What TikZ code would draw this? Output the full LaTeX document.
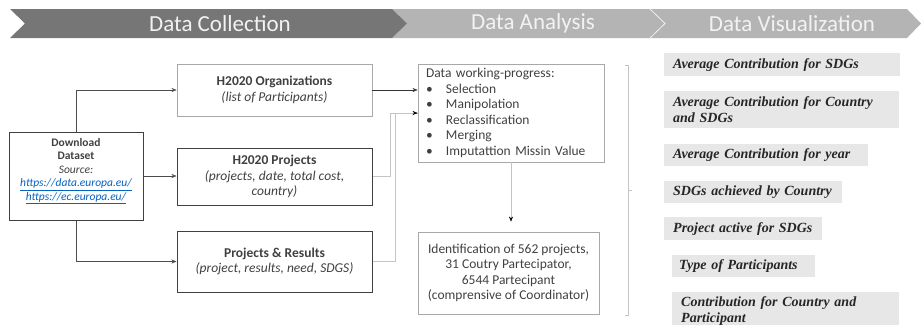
\documentclass[tikz,border=0pt]{standalone}
\usepackage{fontspec}
\setmainfont{Carlito}
\newfontfamily\itemfont{Liberation Serif}
\usetikzlibrary{arrows.meta}

\definecolor{bannerdark}{HTML}{767676}
\definecolor{bannerlight}{HTML}{B4B4B4}
\definecolor{boxtext}{HTML}{404040}
\definecolor{boxline}{HTML}{A8A8A8}
\definecolor{wireline}{HTML}{C4C4C4}
\definecolor{itemfill}{HTML}{E7E7E7}
\definecolor{linkblue}{HTML}{0563C1}

\newcommand{\bul}[1]{\makebox[20pt][l]{\textbullet}#1}
\newcommand{\weblink}[1]{\textcolor{linkblue}{\underline{#1}}}

\begin{document}
\begin{tikzpicture}[x=1pt, y=-1pt, >={Stealth[length=5pt,width=4pt]},
    darkbox/.style={draw=boxtext, line width=1pt, text=boxtext, align=center,
      font=\fontsize{13.5}{15.5}\selectfont},
    lightbox/.style={draw=boxline, line width=0.9pt, text=boxtext,
      font=\fontsize{13.5}{15.5}\selectfont},
    headtext/.style={text=white!95!black, font=\fontsize{23}{26}\selectfont},
    vizitem/.style={fill=itemfill, anchor=north west, align=left, inner xsep=9pt,
      inner ysep=0pt, text=black!85,
      font=\itemfont\bfseries\itshape\fontsize{14}{16}\selectfont}]
        \useasboundingbox (0,0) rectangle (921,324);

        % Banner
        \fill[bannerlight] (392,9) -- (907,9) -- (921,23.5) -- (907,38) -- (392,38) -- (407,23.5) -- cycle;
        \fill[bannerdark] (10,9) -- (392,9) -- (407,23.5) -- (392,38) -- (10,38) -- (25,23.5) -- cycle;
        \draw[white!80!bannerlight, line width=0.8pt] (650,9) -- (665,23.5) -- (650,38);
        \node[headtext] (colhead) at (220,23.5) {Data Collection};
        \node[headtext] (anahead) at (533,23.5) {Data Analysis};
        \node[headtext] (vishead) at (792,23.5) {Data Visualization};

        % Data collection
        \node[darkbox, minimum width=134pt, minimum height=88pt,
          font=\fontsize{11.5}{13.5}\selectfont] (dl) at (76,176)
          {\textbf{Download}\\ \textbf{Dataset}\\ \textit{Source:}\\
           \textit{\weblink{https://data.europa.eu/}}\\
           \textit{\weblink{https://ec.europa.eu/}}\\ ~};
        \node[lightbox, align=center, minimum width=195pt, minimum height=52pt] (org) at (274.5,90)
          {\textbf{H2020 Organizations}\\ \textit{(list of Participants)}};
        \node[darkbox, minimum width=195pt, minimum height=57pt] (proj) at (274.5,176.5)
          {\textbf{H2020 Projects}\\ \textit{(projects, date, total cost,}\\ \textit{country)}};
        \node[darkbox, minimum width=195pt, minimum height=61pt] (pr) at (274.5,261.5)
          {\textbf{Projects \& Results}\\ \textit{(project, results, need, SDGS)}};

        \draw[->, black!70] (dl.north) |- (org.west);
        \draw[->, black!70] (dl.east) -- (dl.east -| proj.west);
        \draw[->, black!70] (dl.south) |- (pr.west);

        % Data analysis
        \node[lightbox, align=left, text width=170pt, inner xsep=8pt, minimum height=98pt] (dw) at (511,113)
          {Data working-progress:\\ \bul{Selection}\\ \bul{Manipolation}\\
           \bul{Reclassification}\\ \bul{Merging}\\ \bul{Imputattion Missin Value}};
        \node[lightbox, align=center, minimum width=181pt, minimum height=82pt] (ident) at (508.5,273)
          {Identification of 562 projects,\\ 31 Coutry Partecipator,\\ 6544 Partecipant\\
           (comprensive of Coordinator)};

        \draw[->, black!80] (org.east) -- (org.east -| dw.west);
        \draw[wireline] (pr.east) -- ++(23,0) |- (dw.west);
        \draw[wireline, -{Stealth[length=5pt,width=4pt,color=black]}] (proj.east) -- ++(18,0) |- (dw.west);
        \draw[wireline, -{Stealth[length=5pt,width=4pt,color=black]}, shorten >=10pt]
          (dw.south) -- (dw.south |- ident.north);

        % Bracket
        \draw[wireline] (625,65) -- (628,65) -- (628,315) -- (625,315);
        \draw[wireline] (628,190) -- (632,190);

        % Data visualization
        \node[vizitem, text width=218pt, minimum height=23pt] (viz1) at (664,53) {Average Contribution for SDGs};
        \node[vizitem, text width=217pt, minimum height=37pt] (viz2) at (664,91) {Average Contribution for Country\\ and SDGs};
        \node[vizitem, text width=186pt, minimum height=22pt] (viz3) at (664,144) {Average Contribution for year};
        \node[vizitem, text width=160pt, minimum height=22pt] (viz4) at (664,181) {SDGs achieved by Country};
        \node[vizitem, text width=140pt, minimum height=23pt] (viz5) at (664,217) {Project active for SDGs};
        \node[vizitem, inner xsep=7pt, text width=129pt, minimum height=22pt] (viz6) at (672,255) {Type of Participants};
        \node[vizitem, text width=209pt, minimum height=38pt] (viz7) at (672,292) {Contribution for Country and\\ Participant};
\end{tikzpicture}
\end{document}
